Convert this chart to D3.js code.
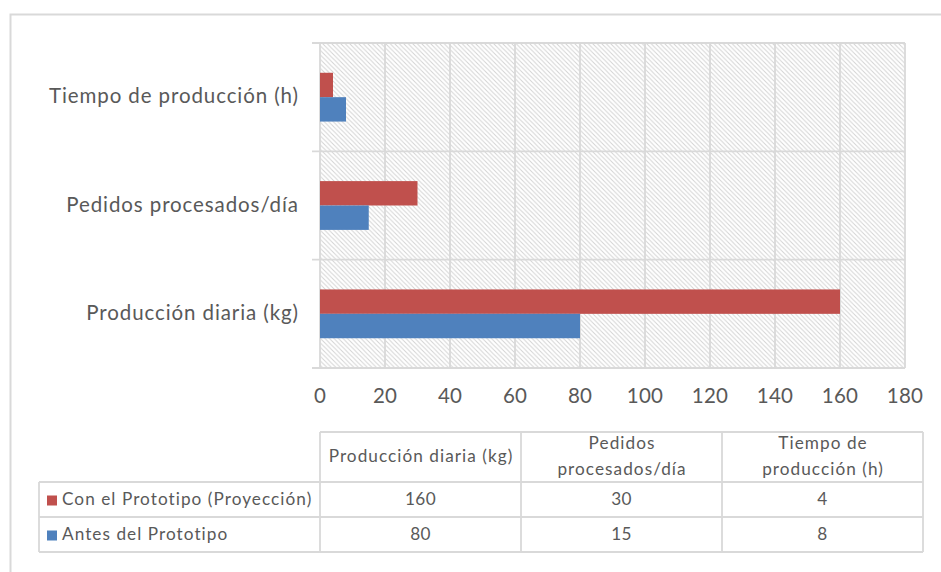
<!DOCTYPE html>
<html>
<head>
<meta charset="utf-8">
<script src="https://cdn.jsdelivr.net/npm/d3@7/dist/d3.min.js"></script>
<style>
  html, body { margin: 0; padding: 0; background: #fff; }
  svg { display: block; font-family: Lato, "Open Sans", sans-serif; }
</style>
</head>
<body>
<svg id="chart" width="941" height="572"></svg>
<script>
// Categories, bottom to top as they appear on the vertical axis
const categories = ["Producción diaria (kg)", "Pedidos procesados/día", "Tiempo de producción (h)"];
// Column headings of the data table (wrapped)
const headerLines = [["Producción diaria (kg)"], ["Pedidos", "procesados/día"], ["Tiempo de", "producción (h)"]];
const seriesNames = ["Con el Prototipo (Proyección)", "Antes del Prototipo"];
const conPrototipo = [160, 30, 4];
const antesPrototipo = [80, 15, 8];
const seriesColors = ["#C0504D", "#4F81BD"];
const xTickValues = [0, 20, 40, 60, 80, 100, 120, 140, 160, 180];

const seriesValues = [conPrototipo, antesPrototipo];
const svg = d3.select("#chart");
const textColor = "#595959";
const lineColor = "#d9d9d9";
const axisFont = 20.5, axisSpacing = 0.9;
const tableFont = 17.2, tableSpacing = 1.05;

// outer chart frame
svg.append("rect")
  .attr("x", 10.5).attr("y", 14.5).attr("width", 960).attr("height", 600)
  .attr("fill", "none").attr("stroke", lineColor).attr("stroke-width", 2);

// diagonal hatch fill for the plot area
const defs = svg.append("defs");
const pat = defs.append("pattern")
  .attr("id", "hatch").attr("patternUnits", "userSpaceOnUse")
  .attr("width", 4.5).attr("height", 4.5);
pat.append("rect").attr("width", 4.5).attr("height", 4.5).attr("fill", "#fff");
pat.append("path")
  .attr("d", "M-1,-1 L5.5,5.5 M-1,3.5 L1,5.5 M3.5,-1 L5.5,1")
  .attr("stroke", "#d3d3d3").attr("stroke-width", 0.95);

const x = d3.scaleLinear().domain([0, 180]).range([320, 905]);
const y = d3.scaleBand().domain(categories.slice().reverse()).range([43, 368]);
const barH = 24.4;
const inner = d3.scaleBand().domain([0, 1]).range([-barH, barH]);

// plot background
svg.append("rect")
  .attr("x", x(0)).attr("y", y.range()[0])
  .attr("width", x(180) - x(0)).attr("height", y.range()[1] - y.range()[0])
  .attr("fill", "url(#hatch)");

// vertical gridlines
svg.append("g").selectAll("line").data(xTickValues).join("line")
  .attr("x1", d => x(d)).attr("x2", d => x(d))
  .attr("y1", y.range()[0]).attr("y2", y.range()[1])
  .attr("stroke", lineColor).attr("stroke-width", 1.8);

// category boundaries with tick marks
const bounds = categories.map(c => y(c)).concat([y.range()[1]]);
svg.append("g").selectAll("line").data(bounds).join("line")
  .attr("x1", 312).attr("x2", x(180))
  .attr("y1", d => d).attr("y2", d => d)
  .attr("stroke", lineColor).attr("stroke-width", 1.8);

// bars
categories.forEach((c, ci) => {
  const cy = y(c) + y.bandwidth() / 2;
  seriesValues.forEach((vals, si) => {
    svg.append("rect")
      .attr("x", x(0))
      .attr("y", cy + inner(si))
      .attr("width", x(vals[ci]) - x(0))
      .attr("height", inner.bandwidth())
      .attr("fill", seriesColors[si]);
  });
});

// category labels
svg.append("g").selectAll("text").data(categories).join("text")
  .attr("x", 298 + axisSpacing).attr("y", d => y(d) + y.bandwidth() / 2 + 1)
  .attr("text-anchor", "end").attr("dominant-baseline", "middle")
  .attr("letter-spacing", axisSpacing)
  .attr("fill", textColor).attr("font-size", axisFont)
  .text(d => d);

// value axis labels
svg.append("g").selectAll("text").data(xTickValues).join("text")
  .attr("x", d => x(d)).attr("y", 398)
  .attr("text-anchor", "middle").attr("dominant-baseline", "middle")
  .attr("letter-spacing", 0.2)
  .attr("fill", textColor).attr("font-size", axisFont)
  .text(d => d);

// data table
const colEdges = [320, 521, 722, 923];
const tTop = 432, hBottom = 482, r1 = 517, r2 = 552, tLeft = 39;
const tg = svg.append("g").attr("stroke", lineColor).attr("stroke-width", 1.8);
tg.append("line").attr("x1", 320).attr("x2", 923).attr("y1", tTop).attr("y2", tTop);
[hBottom, r1, r2].forEach(yy => tg.append("line").attr("x1", tLeft).attr("x2", 923).attr("y1", yy).attr("y2", yy));
colEdges.forEach(xx => tg.append("line").attr("x1", xx).attr("x2", xx).attr("y1", tTop).attr("y2", r2));
tg.append("line").attr("x1", tLeft).attr("x2", tLeft).attr("y1", hBottom).attr("y2", r2);

headerLines.forEach((lines, i) => {
  const cx = (colEdges[i] + colEdges[i + 1]) / 2;
  const mid = (tTop + hBottom) / 2 + 1;
  lines.forEach((ln, k) => {
    svg.append("text")
      .attr("x", cx + tableSpacing / 2).attr("y", mid + (k - (lines.length - 1) / 2) * 26)
      .attr("text-anchor", "middle").attr("dominant-baseline", "middle")
      .attr("letter-spacing", tableSpacing)
      .attr("fill", textColor).attr("font-size", tableFont)
      .text(ln);
  });
});

const rowMids = [(hBottom + r1) / 2 + 1, (r1 + r2) / 2 + 1];
seriesNames.forEach((name, si) => {
  svg.append("rect")
    .attr("x", 47).attr("y", rowMids[si] - 5).attr("width", 10).attr("height", 10)
    .attr("fill", seriesColors[si]);
  svg.append("text")
    .attr("x", 62).attr("y", rowMids[si])
    .attr("dominant-baseline", "middle")
    .attr("letter-spacing", tableSpacing)
    .attr("fill", textColor).attr("font-size", tableFont)
    .text(name);
  seriesValues[si].forEach((v, ci) => {
    svg.append("text")
      .attr("x", (colEdges[ci] + colEdges[ci + 1]) / 2).attr("y", rowMids[si])
      .attr("text-anchor", "middle").attr("dominant-baseline", "middle")
      .attr("letter-spacing", 0.3)
      .attr("fill", textColor).attr("font-size", tableFont)
      .text(v);
  });
});
</script>
</body>
</html>
